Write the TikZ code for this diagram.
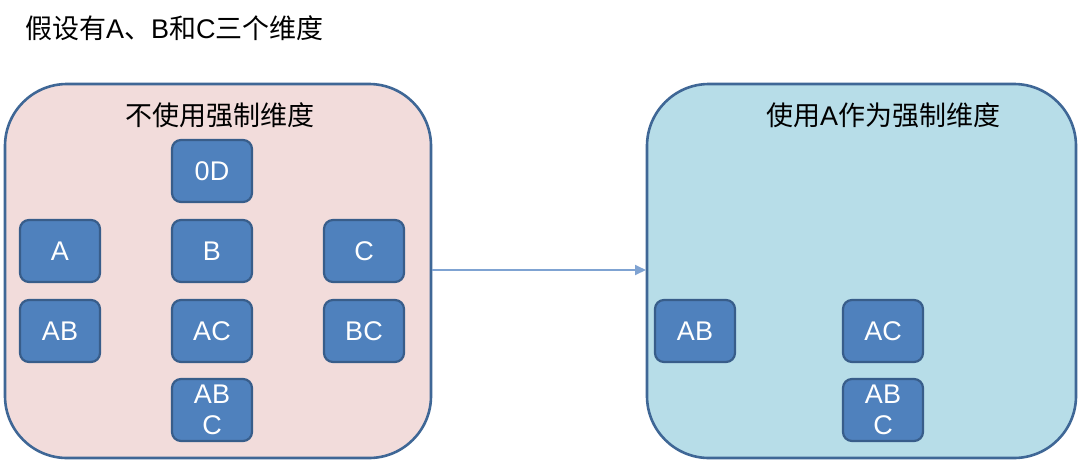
\documentclass[tikz,border=0pt]{standalone}
\usepackage{fontspec}
\setmainfont{Liberation Sans}
\newfontfamily\cjk{Noto Sans CJK SC}
\usetikzlibrary{arrows.meta,positioning}
\definecolor{pinkfill}{HTML}{F2DCDB}
\definecolor{cyanfill}{HTML}{B7DDE8}
\definecolor{frameblue}{HTML}{3F6796}
\definecolor{cellblue}{HTML}{4F81BD}
\definecolor{celledge}{HTML}{385D8A}
\definecolor{arrowblue}{HTML}{7FA3D2}

\begin{document}
\begin{tikzpicture}[
  x=1pt, y=-1pt,
  panel/.style={draw=frameblue, line width=2.6pt, rounded corners=62pt},
  cell/.style={rectangle, rounded corners=9pt, draw=celledge, line width=2.2pt, fill=cellblue,
               text=white, font=\fontsize{27}{31}\selectfont, align=center,
               minimum width=80pt, minimum height=62pt, inner sep=0pt},
  heading/.style={font=\fontsize{27}{30}\selectfont, text=black, inner sep=0pt},
  link/.style={-{Triangle[length=11pt, width=10pt]}, line width=1.8pt, draw=arrowblue},
]
\useasboundingbox (0,0) rectangle (1080,464);

% --- title ---
\node[heading, anchor=west] (title) at (25,28) {{\cjk 假设有}A{\cjk 、}B{\cjk 和}C{\cjk 三个维度}};

% --- panels ---
\path[panel, fill=pinkfill] (5,84) rectangle (431,458);
\path[panel, fill=cyanfill] (647,84) rectangle (1076,458);
\coordinate (leftedge) at (432,270);
\coordinate (rightedge) at (646,270);

\node[heading] (lefttitle) at (220,115) {\cjk 不使用强制维度};
\node[heading] (righttitle) at (883,115) {{\cjk 使用}A{\cjk 作为强制维度}};

% --- cuboids without a mandatory dimension ---
\node[cell] (n0d) at (212,171) {0D};
\node[cell] (na)  at (60,251)  {A};
\node[cell] (nb)  at (212,251) {B};
\node[cell] (nc)  at (364,251) {C};
\node[cell] (nab) at (60,331)  {AB};
\node[cell] (nac) at (212,331) {AC};
\node[cell] (nbc) at (364,331) {BC};
\node[cell] (nabc) at (212,410) {AB\\C};

% --- cuboids with A as mandatory dimension ---
\node[cell] (mab)  at (695,331) {AB};
\node[cell] (mac)  at (883,331) {AC};
\node[cell] (mabc) at (883,410) {AB\\C};

% --- transition ---
\draw[link] (leftedge) -- (rightedge);

\end{tikzpicture}
\end{document}
